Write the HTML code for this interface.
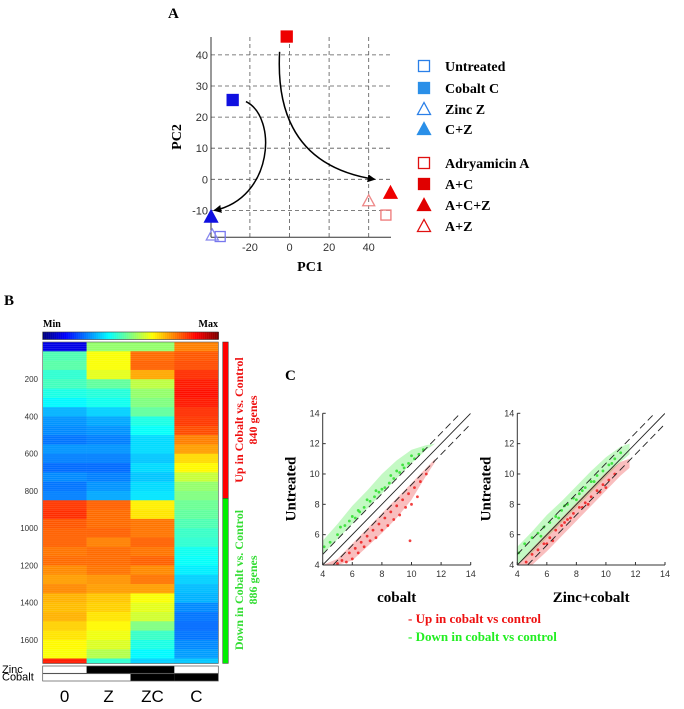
<!DOCTYPE html>
<html><head><meta charset="utf-8"><style>
body{margin:0;background:#fff;width:684px;height:709px;overflow:hidden}
svg{display:block}
.ser{font-family:"Liberation Serif",serif;font-weight:bold}
.san{font-family:"Liberation Sans",sans-serif}
</style></head><body>
<svg id="fig" width="684" height="709" viewBox="0 0 684 709"></svg>
<script>
// ---------- Panel A data ----------
const pcaLabels=["Untreated","Cobalt   C","Zinc  Z","C+Z","Adryamicin A","A+C","A+C+Z","A+Z"];
const pcaPC1=[-35,-28.7,-39,-39.6,48.7,-1.4,51,40];
const pcaPC2=[-18.4,25.5,-17.9,-12,-11.5,45.9,-4.3,-6.9];
const pcaXTicks=[-20,0,20,40];
const pcaYTicks=[-10,0,10,20,30,40];
// ---------- Panel B data (values 0..1 per 50-row block) ----------
const hmColumns=["0","Z","ZC","C"];
const hmTicks=[200,400,600,800,1000,1200,1400,1600];
const hmCol0=[0.1,0.45,0.46,0.42,0.44,0.4,0.37,0.3,0.27,0.26,0.24,0.27,0.25,0.23,0.26,0.24,0.25,0.82,0.83,0.79,0.78,0.78,0.76,0.77,0.74,0.72,0.74,0.7,0.69,0.7,0.67,0.65,0.63,0.62,0.85];
const hmColZ=[0.52,0.62,0.62,0.6,0.47,0.41,0.39,0.33,0.29,0.27,0.25,0.27,0.25,0.23,0.25,0.27,0.29,0.78,0.77,0.77,0.78,0.75,0.77,0.77,0.76,0.73,0.72,0.68,0.67,0.65,0.63,0.61,0.59,0.55,0.42];
const hmColZC=[0.52,0.77,0.78,0.71,0.56,0.52,0.5,0.47,0.4,0.38,0.34,0.34,0.32,0.34,0.32,0.34,0.35,0.64,0.65,0.76,0.76,0.78,0.76,0.78,0.74,0.76,0.72,0.62,0.6,0.58,0.5,0.43,0.4,0.37,0.33];
const hmColC=[0.75,0.79,0.8,0.83,0.85,0.86,0.85,0.83,0.82,0.8,0.75,0.72,0.66,0.63,0.57,0.52,0.5,0.48,0.47,0.45,0.43,0.42,0.39,0.38,0.36,0.33,0.31,0.3,0.26,0.24,0.23,0.24,0.26,0.28,0.32];
const hmUpCount=840, hmTotal=1726;
// ---------- Panel C data ----------
const scTicks=[4,6,8,10,12,14];
const scLeftGreenX=[4.1,4.5,5,5.5,5.8,6.2,6.5,6.8,7.2,7.5,7.8,8.2,8.5,8.8,9.2,9.5,9.8,10.2,10.5,10.8,5.2,6,7,8,9,10,7.6,8.6,6.4,9.4];
const scLeftGreenY=[5.2,5.5,6.0,6.6,6.9,7.1,7.5,7.8,8.2,8.5,8.8,9.1,9.4,9.7,10.1,10.4,10.7,11.0,11.3,11.6,6.5,7.2,8.3,9.0,10.2,11.2,8.9,9.9,7.6,10.6];
const scLeftRedX=[5,5.3,5.8,6.2,6.6,7,7.4,7.8,8.2,8.6,9,9.4,9.8,10.2,10.6,11,6,7.2,8.4,9.6,6.8,8,9.2,10.4,7.6,8.8,10,5.6,6.4,9.9];
const scLeftRedY=[4.1,4.3,4.8,5.1,5.5,5.9,6.3,6.7,7.1,7.5,7.9,8.3,8.7,9.1,9.5,10,4.4,5.6,6.6,7.8,5.2,6.3,7.3,8.5,5.8,7.0,8.0,4.2,4.8,5.6];
const scRightGreenX=[4.1,4.5,5,5.4,5.8,6.2,6.6,7,7.4,7.8,8.2,8.6,9,9.4,9.8,10.2,10.6,11,5.6,6.8,8,9.2,10.4,7.2,8.4];
const scRightGreenY=[4.8,5.4,5.8,6.1,6.5,6.8,7.2,7.6,8.0,8.4,8.7,9.1,9.5,9.9,10.2,10.6,11.0,11.4,5.9,7.1,8.3,9.5,10.7,7.9,8.9];
const scRightRedX=[4.6,5,5.4,5.8,6.2,6.6,7,7.4,7.8,8.2,8.6,9,9.4,9.8,10.2,10.6,6,7.2,8.4,9.6,6.4,7.6,8.8,10];
const scRightRedY=[4.2,4.7,5.0,5.4,5.8,6.3,6.6,7.0,7.4,7.8,8.1,8.5,8.9,9.3,9.6,10.0,5.4,6.8,7.8,8.8,5.6,7.1,8.0,9.1];
// density bands (x, lower y, upper y)
const bandX=[4,5,6,7,8,9,10,11,11.6];
const leftGreenLo=[4.7,5.7,6.7,7.7,8.7,9.7,10.7,11.6,12];
const leftGreenHi=[5.6,6.7,7.9,8.9,10.0,10.9,11.6,11.9,12];
const leftRedLo=[4,4,4.3,5.2,6.1,7.1,8.3,9.9,10.8];
const leftRedHi=[4,4.4,5.4,6.4,7.4,8.4,9.4,10.4,11];
const rightGreenLo=[4,4.8,5.8,6.8,7.8,8.8,9.8,10.8,11.3];
const rightGreenHi=[5.2,6.2,7.3,8.2,9.2,10.2,11.1,11.8,12];
const rightRedLo=[4,4,4.9,5.9,6.9,7.9,8.9,9.9,10.4];
const rightRedHi=[4,5.1,6.1,7.1,8.1,9.1,10.1,10.8,11];

const NS="http://www.w3.org/2000/svg";
const svg=document.getElementById('fig');
function mk(tag,attrs,parent,text){const e=document.createElementNS(NS,tag);for(const k in attrs)e.setAttribute(k,attrs[k]);if(text!==undefined)e.textContent=text;(parent||svg).appendChild(e);return e;}

const defs=mk('defs',{});
const mrk=mk('marker',{id:'ah',markerWidth:8,markerHeight:8,refX:7,refY:4,orient:'auto',markerUnits:'userSpaceOnUse'},defs);
mk('path',{d:'M0,0 L8,4 L0,8 Z',fill:'#000'},mrk);

// ===== Panel A =====
const gA=mk('g',{});


const ax=v=>289.5+v*1.98, ay=v=>179.3-v*3.11;
const t=mk('text',{x:168,y:18,'font-size':15,class:'ser'},gA,'A');

pcaXTicks.forEach(v=>{const l=mk('line',{x1:ax(v),x2:ax(v),y1:37,y2:237.3,stroke:'#555','stroke-dasharray':'4,3','stroke-width':0.8},gA);

const tx=mk('text',{x:ax(v),y:251,'text-anchor':'middle','font-size':11,fill:'#333',class:'san'},gA,v);
});
pcaYTicks.forEach(v=>{const l=mk('line',{x1:211,x2:391,y1:ay(v),y2:ay(v),stroke:'#555','stroke-dasharray':'4,3','stroke-width':0.8},gA);

const tx=mk('text',{x:208,y:ay(v)+4,'text-anchor':'end','font-size':11,fill:'#333',class:'san'},gA,v);
});
mk('line',{x1:211,x2:211,y1:37,y2:237.3,stroke:'#333'},gA);
mk('line',{x1:211,x2:391,y1:237.3,y2:237.3,stroke:'#333'},gA);
let lb=mk('text',{x:310,y:271,'text-anchor':'middle','font-size':14,class:'ser'},gA,'PC1');

lb=mk('text',{x:0,y:0,transform:'translate(181,137) rotate(-90)','text-anchor':'middle','font-size':14,class:'ser'},gA,'PC2');

let ar=mk('path',{d:`M${ax(-5)},${ay(41)} Q${ax(-8)},${ay(5)} ${ax(43)},${ay(0)}`,fill:'none',stroke:'#000','stroke-width':1.5,'marker-end':'url(#ah)'},gA);

ar=mk('path',{d:`M${ax(-22)},${ay(25)} C${ax(-6)},${ay(20)} ${ax(-8)},${ay(-6)} ${ax(-38)},${ay(-10)}`,fill:'none',stroke:'#000','stroke-width':1.5,'marker-end':'url(#ah)'},gA);

function marker(g,type,filled,color,cx,cy,s){
 let e;
 if(type==='sq') e=mk('rect',{x:cx-s/2,y:cy-s/2,width:s,height:s},g);
 else e=mk('polygon',{points:`${cx},${cy-s/2-1} ${cx-s/2-1},${cy+s/2} ${cx+s/2+1},${cy+s/2}`},g);
 e.setAttribute('fill',filled?color:'#fff');e.setAttribute('fill-opacity',filled?1:0);
 e.setAttribute('stroke',color);e.setAttribute('stroke-width',1.3);return e;}
const mType=['sq','sq','tri','tri','sq','sq','tri','tri'];
const mFill=[false,true,false,true,false,true,true,false];
const mColPt=['#7777ee','#1010e0','#8888ee','#1010e0','#ee7777','#ee0000','#ee0000','#ee8888'];
const mColLg=['#2a7fe8','#2a8fe8','#2a7fe8','#2a8fe8','#e01010','#e00000','#e00000','#e01010'];
pcaPC1.forEach((v,i)=>{const e=marker(gA,mType[i],mFill[i],mColPt[i],ax(v),ay(pcaPC2[i]),mFill[i]?11:10);
});
const lgY=[66,88,109,129,163,184,205,226];
pcaLabels.forEach((s,i)=>{const g=mk('g',{},gA);

marker(g,mType[i],mFill[i],mColLg[i],424,lgY[i],11);
mk('text',{x:445,y:lgY[i]+5,'font-size':14,class:'ser','xml:space':'preserve'},g,s);});

// ===== Panel B =====
const gB=mk('g',{});

lb=mk('text',{x:4,y:305,'font-size':15,class:'ser'},gB,'B');

function jet(v){v=Math.max(0,Math.min(1,v));const r=Math.max(0,Math.min(1,1.5-Math.abs(4*v-3))),g=Math.max(0,Math.min(1,1.5-Math.abs(4*v-2))),b=Math.max(0,Math.min(1,1.5-Math.abs(4*v-1)));return `rgb(${Math.round(r*255)},${Math.round(g*255)},${Math.round(b*255)})`;}
const hx0=42.7,colW=43.9,hy0=342,rowH=0.1862;
const hy=r=>hy0+r*rowH;
const cb=mk('g',{},gB);
for(let i=0;i<88;i++){mk('rect',{x:hx0+i*2,y:332,width:2.2,height:7.5,fill:jet(i/87)},cb);}
mk('rect',{x:hx0,y:332,width:175.6,height:7.5,fill:'none',stroke:'#333','stroke-width':0.6},cb);
mk('text',{x:43,y:327,'font-size':10,class:'ser'},gB,'Min').setAttribute('font-weight','normal');
mk('text',{x:218,y:327,'text-anchor':'end','font-size':10,class:'ser'},gB,'Max').setAttribute('font-weight','normal');
const hmCols=[hmCol0,hmColZ,hmColZC,hmColC];
hmCols.forEach((col,c)=>{col.forEach((v,b)=>{const r0=b*50,r1=Math.min(hmTotal,(b+1)*50);
const e=mk('rect',{x:hx0+c*colW,y:hy(r0),width:colW+0.3,height:(r1-r0)*rowH+0.3,fill:jet(v)},gB);
});});
for(let r=0;r<hmTotal;r+=11){mk('rect',{x:hx0,y:hy(r),width:colW*4,height:0.7,fill:'#fff','fill-opacity':0.15},gB);}
mk('rect',{x:hx0,y:hy0,width:colW*4,height:hmTotal*rowH,fill:'none',stroke:'#555','stroke-width':0.6},gB);
hmTicks.forEach(v=>{const tx=mk('text',{x:38,y:hy(v)+3,'text-anchor':'end','font-size':8,fill:'#333',class:'san'},gB,v);
});
const sb=mk('g',{},gB);
mk('rect',{x:222.7,y:hy0,width:5.6,height:hmUpCount*rowH,fill:'#ff0000',stroke:'#333','stroke-width':0.5},sb);
mk('rect',{x:222.7,y:hy(hmUpCount),width:5.6,height:(hmTotal-hmUpCount)*rowH,fill:'#00ee00',stroke:'#333','stroke-width':0.5},sb);
lb=mk('text',{transform:'translate(243,420) rotate(-90)','text-anchor':'middle','font-size':12,fill:'#ee1010',class:'ser'},gB,'Up in Cobalt vs. Control');

mk('text',{transform:'translate(257,420) rotate(-90)','text-anchor':'middle','font-size':12,fill:'#ee1010',class:'ser'},gB,'840 genes');
lb=mk('text',{transform:'translate(243,580) rotate(-90)','text-anchor':'middle','font-size':12,fill:'#33dd33',class:'ser'},gB,'Down in Cobalt vs. Control');

mk('text',{transform:'translate(257,580) rotate(-90)','text-anchor':'middle','font-size':12,fill:'#33dd33',class:'ser'},gB,'886 genes');
const zinc=[0,1,1,0], cob=[0,0,1,1];
[[zinc,666,'Zinc'],[cob,673.7,'Cobalt']].forEach(([arr,y,name])=>{
 const g=mk('g',{},gB);
 arr.forEach((v,i)=>mk('rect',{x:hx0+i*colW,y:y,width:colW,height:7.3,fill:v?'#000':'#fff'},g));
 mk('rect',{x:hx0,y:y,width:colW*4,height:7.3,fill:'none',stroke:'#555','stroke-width':0.7},g);
 mk('text',{x:2,y:y+7,'font-size':11,class:'san'},g,name);});
hmColumns.forEach((s,i)=>{const tx=mk('text',{x:hx0+(i+0.5)*colW,y:702,'text-anchor':'middle','font-size':17,class:'san'},gB,s);
});

// ===== Panel C =====
const gC=mk('g',{});

lb=mk('text',{x:285,y:380,'font-size':15,class:'ser'},gC,'C');

function scatter(x0,x1,xlab,gx,gy,rx,ry,gLo,gHi,rLo,rHi,name){
 const g=mk('g',{},gC);
 const y0=565,y1=413.3;
 const sx=v=>x0+(v-4)/10*(x1-x0), sy=v=>y0-(v-4)/10*(y0-y1);
 const cid='c'+name;const cp=mk('clipPath',{id:cid},defs);mk('rect',{x:x0,y:y1,width:x1-x0,height:y0-y1},cp);
 const pg=mk('g',{'clip-path':`url(#${cid})`},g);
 function band(lo,hi,col,nm){
  const pts=bandX.map((v,i)=>`${sx(v)},${sy(hi[i])}`).concat(bandX.map((v,i)=>`${sx(v)},${sy(lo[i])}`).reverse()).join(' ');
  const p=mk('polygon',{points:pts,fill:col,'fill-opacity':0.35},pg);
  }
 band(gLo,gHi,'#55ee55','down-density');
 band(rLo,rHi,'#ee4444','up-density');
 gx.forEach((v,i)=>{const d=mk('circle',{cx:sx(v),cy:sy(gy[i]),r:1.4,fill:'#22dd22','fill-opacity':0.8},pg);
 });
 rx.forEach((v,i)=>{const d=mk('circle',{cx:sx(v),cy:sy(ry[i]),r:1.4,fill:'#ee1111','fill-opacity':0.8},pg);
 });
 mk('line',{x1:sx(4),y1:sy(4),x2:sx(14),y2:sy(14),stroke:'#222','stroke-width':0.9},pg);
 mk('line',{x1:sx(4),y1:sy(4.7),x2:sx(13.3),y2:sy(14),stroke:'#222','stroke-width':0.9,'stroke-dasharray':'7,4'},pg);
 mk('line',{x1:sx(4.7),y1:sy(4),x2:sx(14),y2:sy(13.3),stroke:'#222','stroke-width':0.9,'stroke-dasharray':'7,4'},pg);
 mk('line',{x1:x0,y1:y1,x2:x0,y2:y0,stroke:'#333'},g);
 mk('line',{x1:x0,y1:y0,x2:x1,y2:y0,stroke:'#333'},g);
 scTicks.forEach(v=>{
  mk('line',{x1:sx(v),x2:sx(v),y1:y0,y2:y0-3,stroke:'#333'},g);
  mk('line',{x1:x0,x2:x0+3,y1:sy(v),y2:sy(v),stroke:'#333'},g);
  const a=mk('text',{x:sx(v),y:y0+12,'text-anchor':'middle','font-size':9,fill:'#333',class:'san'},g,v);
  
  const b=mk('text',{x:x0-3,y:sy(v)+3,'text-anchor':'end','font-size':9,fill:'#333',class:'san'},g,v);
  });
 const xt=mk('text',{x:(x0+x1)/2,y:602,'text-anchor':'middle','font-size':15,class:'ser'},g,xlab);
 
 const yt=mk('text',{transform:`translate(${x0-27},489) rotate(-90)`,'text-anchor':'middle','font-size':15,class:'ser'},g,'Untreated');
 
}
scatter(322.7,470.7,'cobalt',scLeftGreenX,scLeftGreenY,scLeftRedX,scLeftRedY,leftGreenLo,leftGreenHi,leftRedLo,leftRedHi,'scatter-cobalt');
scatter(517.3,665,'Zinc+cobalt',scRightGreenX,scRightGreenY,scRightRedX,scRightRedY,rightGreenLo,rightGreenHi,rightRedLo,rightRedHi,'scatter-zinc-cobalt');
lb=mk('text',{x:408,y:623,'font-size':13,fill:'#ee1111',class:'ser'},gC,'- Up in cobalt vs control');

lb=mk('text',{x:408,y:641,'font-size':13,fill:'#22ee22',class:'ser'},gC,'- Down in cobalt vs control');

</script>
</body></html>
